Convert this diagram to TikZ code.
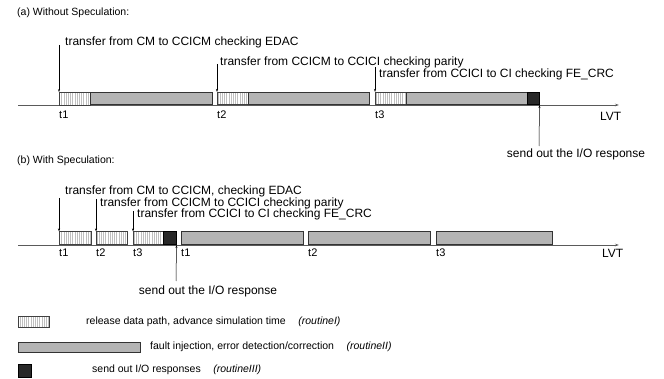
\documentclass[tikz,border=0pt]{standalone}
\usepackage{fontspec}
\setmainfont{Liberation Sans}
\usetikzlibrary{patterns.meta,arrows.meta}
\definecolor{boxgray}{RGB}{180,180,180}
\definecolor{boxblack}{RGB}{40,40,40}
\definecolor{axisgray}{RGB}{90,90,90}
\begin{document}
\begin{tikzpicture}[x=1pt,y=-1pt,
  lbl/.style={inner sep=0pt,font=\fontsize{12}{14}\selectfont},
  small/.style={inner sep=0pt,font=\fontsize{10.5}{12}\selectfont},
  tick/.style={inner sep=0pt,anchor=west,font=\fontsize{11}{13}\selectfont},
  hatchbox/.style={draw=black!75,line width=0.5pt,preaction={fill=white},
    pattern={Lines[angle=90,distance=2.2pt,line width=0.3pt]},pattern color=gray!50,
    minimum height=12.5pt,inner sep=0pt,anchor=south west},
  graybox/.style={draw=black!80,line width=0.5pt,fill=boxgray,minimum height=12.5pt,inner sep=0pt,anchor=south west},
  blackbox/.style={draw=black,line width=0.5pt,fill=boxblack,minimum height=12.5pt,inner sep=0pt,anchor=south west},
  axisline/.style={draw=axisgray,line width=0.8pt,-{Stealth[length=4pt,width=2.5pt]}},
  ann/.style={draw=black,line width=0.5pt,-{Stealth[length=3pt,width=2pt]}}
]
\useasboundingbox (0,0) rectangle (664,379);

% ---------- (a) ----------
\node[small,anchor=west] (ta) at (17,13) {(a) Without Speculation:};
\coordinate (a0) at (18,105);
\coordinate (aend) at (619,105);
\draw[axisline] (a0) -- (aend);
\node[hatchbox,minimum width=31pt] (a1h) at (59,105) {};
\node[graybox,minimum width=122pt] (a1g) at (90,105) {};
\node[hatchbox,minimum width=31pt] (a2h) at (217,105) {};
\node[graybox,minimum width=121pt] (a2g) at (248,105) {};
\node[hatchbox,minimum width=31pt] (a3h) at (375,105) {};
\node[graybox,minimum width=121pt] (a3g) at (406,105) {};
\node[blackbox,minimum width=12pt] (a3b) at (527,105) {};

\coordinate (a1s) at (59,45);
\draw[ann] (a1s) -- (a1h.north west);
\node[lbl,anchor=west] (a1t) at (65,42) {transfer from CM to CCICM checking EDAC};
\coordinate (a2s) at (217,64);
\draw[ann] (a2s) -- (a2h.north west);
\node[lbl,anchor=west] (a2t) at (220,62) {transfer from CCICM to CCICI checking parity};
\coordinate (a3s) at (375,67);
\draw[ann] (a3s) -- (a3h.north west);
\node[lbl,anchor=west] (a3t) at (379,74) {transfer from CCICI to CI checking FE\_CRC};

\node[tick] (at1) at (59,115) {t1};
\node[tick] (at2) at (217,115) {t2};
\node[tick] (at3) at (375,115) {t3};
\node[lbl,anchor=west] (alvt) at (600,116) {LVT};

\coordinate (asend) at (539,146);
\draw[ann] (asend) -- (a3b.south east);
\node[lbl] (asendt) at (576,154) {send out the I/O response};

% ---------- (b) ----------
\node[small,anchor=west] (tb) at (17,161) {(b) With Speculation:};
\coordinate (b0) at (18,245);
\coordinate (bend) at (619,245);
\draw[axisline] (b0) -- (bend);
\node[hatchbox,minimum width=32pt,minimum height=13pt] (b1h) at (59,245) {};
\node[hatchbox,minimum width=31pt,minimum height=13pt] (b2h) at (96,245) {};
\node[hatchbox,minimum width=30pt,minimum height=13pt] (b3h) at (133,245) {};
\node[blackbox,minimum width=13pt,minimum height=13pt] (bb) at (163,245) {};
\node[graybox,minimum width=122pt,minimum height=13pt] (bg1) at (181,245) {};
\node[graybox,minimum width=122pt,minimum height=13pt] (bg2) at (308,245) {};
\node[graybox,minimum width=116pt,minimum height=13pt] (bg3) at (436,245) {};

\coordinate (b1s) at (59,198);
\draw[ann] (b1s) -- (b1h.north west);
\node[lbl,anchor=west] (b1t) at (65,191) {transfer from CM to CCICM, checking EDAC};
\coordinate (b2s) at (96,199);
\draw[ann] (b2s) -- (b2h.north west);
\node[lbl,anchor=west] (b2t) at (100,203) {transfer from CCICM to CCICI checking parity};
\coordinate (b3s) at (133,211);
\draw[ann] (b3s) -- (b3h.north west);
\node[lbl,anchor=west] (b3t) at (137,214) {transfer from CCICI to CI checking FE\_CRC};

\node[tick] (bt1) at (59,253) {t1};
\node[tick] (bt2) at (96,253) {t2};
\node[tick] (bt3) at (133,253) {t3};
\node[tick] (bt4) at (181,253) {t1};
\node[tick] (bt5) at (308,253) {t2};
\node[tick] (bt6) at (436,253) {t3};
\node[lbl,anchor=west] (blvt) at (602,253) {LVT};

\coordinate (bsend) at (176,281);
\draw[ann] (bsend) -- (bb.south east);
\node[lbl] (bsendt) at (208,291) {send out the I/O response};

% ---------- legend ----------
\node[hatchbox,minimum width=31pt,minimum height=11pt] (lh) at (18,328) {};
\node[small,anchor=west] (lht) at (86,322) {release data path, advance simulation time\hspace{1.2em}\textit{(routineI)}};
\node[graybox,minimum width=122pt,minimum height=10pt] (lg) at (18,352) {};
\node[small,anchor=west] (lgt) at (150,347) {fault injection, error detection/correction\hspace{1.2em}\textit{(routineII)}};
\node[blackbox,minimum width=13pt,minimum height=13pt] (lb) at (18,377) {};
\node[small,anchor=west] (lbt) at (92,370) {send out I/O responses\hspace{1.2em}\textit{(routineIII)}};
\end{tikzpicture}
\end{document}
